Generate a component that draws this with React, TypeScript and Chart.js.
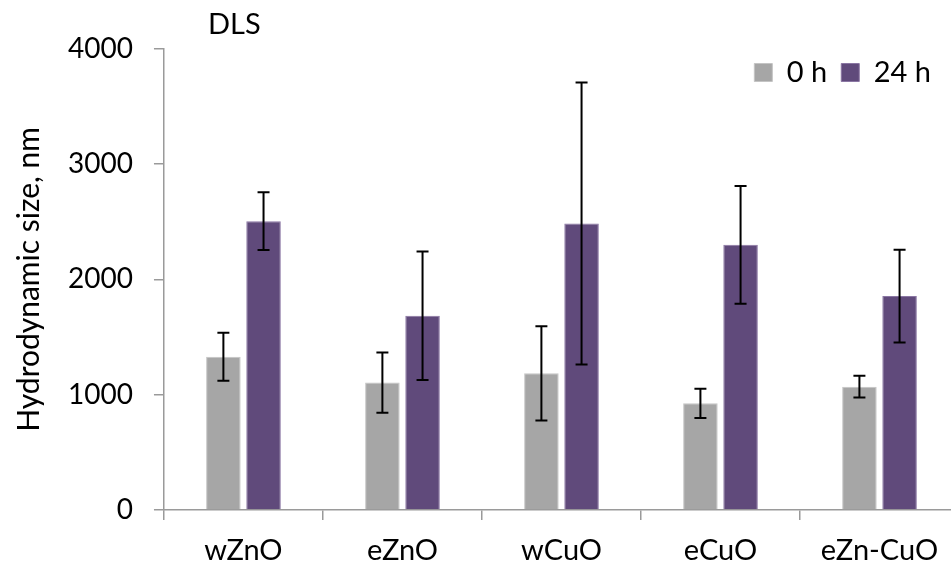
import React, { useEffect, useRef } from "react";
import { Chart, registerables } from "chart.js";

Chart.register(...registerables);

const categories = ["wZnO", "eZnO", "wCuO", "eCuO", "eZn-CuO"];
const seriesLabels = ["0 h", "24 h"];
const values0h = [1330, 1105, 1185, 925, 1070];
const errors0h = [208, 262, 409, 127, 95];
const values24h = [2505, 1685, 2485, 2300, 1855];
const errors24h = [250, 557, 1223, 511, 402];
const yMin = 0;
const yMax = 4000;
const yStep = 1000;
const chartTitle = "DLS";
const yTitle = "Hydrodynamic size, nm";

const FONT = "Lato";
const AXIS = "#9a9a9a";

export default function App() {
  const ref = useRef<HTMLCanvasElement | null>(null);

  useEffect(() => {
    if (!ref.current) return;
    const errs = [errors0h, errors24h];

    const errorBars = {
      id: "errorBars",
      afterDatasetsDraw(chart: any) {
        const ctx = chart.ctx;
        const y = chart.scales.y;
        ctx.save();
        ctx.strokeStyle = "#000";
        ctx.lineWidth = 2;
        chart.data.datasets.forEach((ds: any, di: number) => {
          const meta = chart.getDatasetMeta(di);
          meta.data.forEach((bar: any, i: number) => {
            const v = ds.data[i];
            const e = errs[di][i];
            const top = y.getPixelForValue(v + e);
            const bot = y.getPixelForValue(v - e);
            const x = bar.x;
            const cap = 6;
            ctx.beginPath();
            ctx.moveTo(x, top);
            ctx.lineTo(x, bot);
            ctx.moveTo(x - cap, top);
            ctx.lineTo(x + cap, top);
            ctx.moveTo(x - cap, bot);
            ctx.lineTo(x + cap, bot);
            ctx.stroke();
          });
        });
        ctx.restore();
      },
    };

    const placeBlocks = {
      id: "placeBlocks",
      afterLayout(chart: any) {
        const t = chart.titleBlock;
        if (t) {
          t.left += 44;
          t.right += 44;
        }
        const lg = chart.legend;
        if (lg) {
          lg.top = 44;
          lg.bottom = 94;
          lg.height = 50;
          lg.left = 600;
          lg.right = 945;
          lg.width = lg.right - lg.left;
        }
      },
    };

    const chart = new Chart(ref.current, {
      type: "bar",
      data: {
        labels: categories,
        datasets: [
          {
            label: seriesLabels[0],
            data: values0h,
            backgroundColor: "#A6A6A6",
            borderColor: "#C4C4C4",
            borderWidth: 1,
            categoryPercentage: 0.505,
            barPercentage: 0.86,
          },
          {
            label: seriesLabels[1],
            data: values24h,
            backgroundColor: "#604A7B",
            borderColor: "#8A76A3",
            borderWidth: 1,
            categoryPercentage: 0.505,
            barPercentage: 0.86,
          },
        ],
      },
      options: {
        responsive: false,
        animation: false,
        events: [],
        layout: { padding: { left: 11, right: 16, top: 0, bottom: -14 } },
        plugins: {
          tooltip: { enabled: false },
          title: {
            display: true,
            text: chartTitle,
            align: "start",
            fullSize: false,
            color: "#000",
            font: { family: FONT, size: 29, weight: "normal" },
            padding: { top: 7, bottom: 7 },
          },
          legend: {
            display: true,
            position: "top",
            align: "end",
            maxHeight: 0.001,
            labels: {
              color: "#000",
              font: { family: FONT, size: 29 },
              boxWidth: 18,
              boxHeight: 18,
              padding: 14,
            },
          },
        },
        scales: {
          x: {
            grid: {
              display: true,
              drawOnChartArea: false,
              drawTicks: true,
              tickLength: 10,
              color: AXIS,
              lineWidth: 1.5,
            },
            border: { display: true, color: AXIS, width: 1.5 },
            ticks: {
              color: "#000",
              font: { family: FONT, size: 29, lineHeight: 1.0 },
              padding: 16,
              maxRotation: 0,
            },
          },
          y: {
            min: yMin,
            max: yMax,
            grid: {
              display: true,
              drawOnChartArea: false,
              drawTicks: true,
              tickLength: 10,
              color: AXIS,
              lineWidth: 1.5,
            },
            border: { display: true, color: AXIS, width: 1.5 },
            ticks: {
              stepSize: yStep,
              color: "#000",
              font: { family: FONT, size: 28 },
              padding: 21,
              callback: (v: any) => String(v),
            },
            title: {
              display: true,
              text: yTitle,
              color: "#000",
              font: { family: FONT, size: 30 },
              padding: { top: 0, bottom: 0 },
            },
          },
        },
      },
      plugins: [errorBars, placeBlocks],
    });

    return () => chart.destroy();
  }, []);

  return (
    <div
      style={{
        position: "fixed",
        left: 0,
        top: 0,
        width: 951,
        height: 567,
        overflow: "hidden",
        background: "#fff",
      }}
    >
      <canvas ref={ref} width={975} height={567} style={{ display: "block" }} />
    </div>
  );
}
